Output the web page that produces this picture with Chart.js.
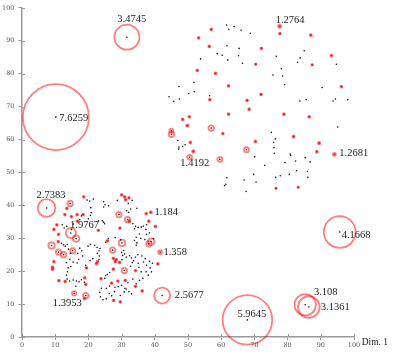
<!DOCTYPE html>
<html>
<head>
<meta charset="utf-8">
<script src="https://cdn.jsdelivr.net/npm/chart.js@4"></script>
<style>
html,body{margin:0;padding:0;background:#fff;}
#wrap{width:398px;height:355px;}
</style>
</head>
<body>
<div id="wrap"><canvas id="c" width="398" height="355"></canvas></div>
<script>
// ---------- data ----------
const tickValues = [0,10,20,30,40,50,60,70,80,90,100];
const axisTitle = 'Dim. 1';

// labelled points: [x, y]
const labeledPoints = [
  [31.6,91.1],[10.2,66.8],[77.6,94.4],[50.5,54.6],[94.1,55.5],
  [95.7,31.9],[85.3,9.8],[86.4,9.1],[67.9,5.2],[42.2,12.6],
  [15.7,13.3],[7.4,39.2],[14.7,31.6],[38.8,37.9],[41.6,25.8]
];
const labelTexts = [
  '3.4745','7.6259','1.2764','1.4192','1.2681',
  '4.1668','3.108','3.1361','5.9645','2.5677',
  '1.3953','2.7383','1.9767','1.184','1.358'
];
// label placement relative to the point (px, text left / baseline)
const labelOffsets = [
  [-9.6,-15.2],[3.4,3.4],[-4,-3.5],[-9.4,8.7],[4.9,1.7],
  [2,6],[8.7,-9.3],[12,3.3],[-10,-3],[12.7,2.4],
  [-21.3,13],[-10,-10],[-0.7,-4.7],[3.6,2.4],[3.3,3]
];

// unlabelled red points: [x, y, value]
const redPointsLow = [
  [18.6,42.6,1.15],[14.5,40.6,1.5],[13.5,39.1,1.15],[30,43.2,1.15],[30.9,42.6,1.15],
  [32.2,42.3,1.15],[31.2,41.7,1.15],[12.9,37.2,1.15],[14.9,36.6,1.15],[16.6,37.2,1.15],
  [18.4,37.2,1.15],[16.7,35.2,1.15],[29.2,37.2,1.5],[31.8,35.7,1.5],[32.3,35.2,1.15],
  [37.4,37.5,1.15],[38.2,35.2,1.15],[40.2,33.6,1.15],[10.5,34.1,1.15],[9.6,32.7,1.15],
  [11,31.2,1.15],[16.3,29.9,1.6],[8.9,27.8,1.6],[10.9,29,1.15],[12.5,25,1.5],
  [11,25.8,1.5],[15.3,26.2,1.5],[23,32.4,1.15],[29.5,33.1,1.15],[25.7,29.2,1.15],
  [30.1,28.6,1.6],[27.3,26.4,1.5],[38.2,28.3,1.5],[38.9,29,1.6],[9.6,22.9,1.15],
  [9.2,21.2,1.15],[9.2,20.6,1.15],[19.4,21,1.15],[22.4,22.3,1.15],[22.8,22.9,1.15],
  [27.5,23.9,1.15],[28.4,23.5,1.15],[28.1,22.9,1.15],[29.4,22.7,1.15],[27.5,20.6,1.15],
  [30.8,20.2,1.5],[34.2,20.2,1.15],[40.9,22.2,1.15],[11.1,17.1,1.15],[13,16.9,1.15],
  [18.9,18,1.15],[19.2,16,1.15],[23.8,17.7,1.15],[27,16.4,1.15],[28.9,17,1.15],
  [31.1,17.2,1.15],[34.2,15.4,1.15],[36.2,14,1.15],[19.2,12.6,1.5],[18.8,11.7,1.15],
  [27.6,11.1,1.15],[29.6,10.7,1.15]
];
const redPointsHigh = [
  [57,93.5,1.15],[77.7,92.2,1.15],[87,91.7,1.15],[53.2,90.9,1.15],[56.4,88.3,1.15],
  [72.1,87.7,1.15],[70.4,82.9,1.12],[87.4,82.7,1.12],[93.2,85.5,1.15],[52.8,81,1.15],
  [58.3,80.1,1.15],[62.2,76.3,1.15],[72,73.7,1.15],[96.2,76.1,1.15],[56.6,72.1,1.15],
  [67.8,71.9,1.15],[68.4,69.2,1.15],[62.2,67.7,1.15],[78.9,67.7,1.15],[86.5,66.9,1.15],
  [50.4,66.9,1.15],[48.4,66.1,1.15],[49.8,64.2,1.2],[57,63.5,1.5],[60.5,61.8,1.15],
  [50.7,59.1,1.15],[51.6,56.4,1.2],[70.3,59.4,1.15],[81.8,60.9,1.2],[89.5,58.9,1.2],
  [88.8,56.3,1.15],[67.6,56.9,1.45],[59.6,54,1.45],[45,62.7,1.35],[45,61.6,1.5],
  [76.5,45.2,1.12],[83.2,45.5,1.12]
];

// plain black points: [x, y]
const blackPointsLow = [
  [19.6,41.6],[20.4,41.3],[21.5,41.9],[24.6,41.1],[25,40.2],[26.1,39.9],[24.6,39.5],
  [28.7,41.5],[32,40.6],[33.2,41.5],[32.7,38.9],[34.6,39.1],[20.7,39.3],[20.9,37.8],
  [20.6,36.9],[17.9,36.8],[17.4,35.7],[20,35.9],[23,35.3],[24.6,34.9],[24.9,34.4],
  [24.2,35.3],[31.5,38.4],[32.1,37.9],[33.4,34.4],[34.2,33.6],[33.9,32.9],[35,33.3],
  [35.9,33.4],[37.5,34.1],[36.5,33.7],[37.3,32.7],[35.4,31.3],[35.8,30],[34.4,30.3],
  [33.9,29.3],[34.6,28.6],[34.4,27.9],[37,29.6],[37.5,31.2],[38.4,31.7],[39.6,29.9],
  [12.1,34.1],[12.7,33.1],[13.5,33.6],[14.9,32.7],[15.4,34.3],
  [11.9,28.5],[12.5,28],[13,27.6],[13.6,28.2],[14,26.7],[14.6,25.4],[16.8,25.4],
  [17.4,27],[18,26.2],[18.3,24.6],[17.1,23.6],[16.6,22.5],[19.9,27.6],[20.6,28.2],
  [21.9,27.9],[22.6,27.2],[23.2,26.2],[23.5,26.9],[22.7,25.4],[23.3,24.6],[23.2,23.6],
  [21.3,23.8],[20.5,23.2],[19.2,21.8],[25.2,28.8],[26,29.9],[28.1,30.2],[29.7,29.5],
  [30,25.7],[30.6,26.3],[30.3,24.8],[30.9,25.2],[30.1,23.5],[31.4,24.3],[32.4,24.7],
  [33,24],[34.2,24.2],[34.9,25],[36.1,24.6],[37.1,23.8],[38.4,23],[39.3,22.4],
  [36.6,22.8],[37.5,21.8],[35,22.4],[33.6,23.2],[33.2,22.6],[32.7,21.5],
  [35.2,21.2],[35.9,19.8],[37.4,19.8],[38.6,21],[39,19.8],[38,18.8],[36.4,17.8],
  [35.4,17.2],[34.4,16.2],[33.4,17.6],[31.9,16.5],[31,14.8],[30,15.7],[29,15.3],
  [28,15.1],[26.4,15.5],[25.4,14.8],[23.9,14.8],[23.4,13.6],[23.6,12.2],[24.4,11.3],
  [25.4,11.6],[26.3,13.2],[27,12.5],[27.9,13.8],[29.6,12.6],[30.8,13.7],[31.4,14.6],
  [32.2,13.8],[33,13.1],[25.2,18.6],[25.7,19],[26.4,19.6],[24.9,17.8],
  [13.7,19.8],[13.4,18.8],[13.6,17.6],[14.4,17],[15.4,17.3],[16.4,17],[17.2,16.8],
  [17.9,17.4],[16.2,15.4],[18.8,16.6],[13.4,22.6],[13.9,21],[14.7,21.4],[15.4,22.8],
  [14.4,23.6]
];
const blackPointsHigh = [
  [61.6,94.8],[62.3,93.5],[63.9,94.3],[66,93.2],[68.8,92.3],
  [61.7,88.5],[65.4,87.7],[58.8,86.1],[60.3,85.6],[65.2,85.5],[62,84.2],[66.4,83.2],[53.8,84.5],
  [76.6,85.3],[83.8,84.8],[85,87],[83,83.5],[94.7,82.9],
  [78.1,81.5],[75.6,79.6],[78.5,79.3],[79.1,76.7],
  [51.8,77.4],[51.9,74.5],[50.2,74],[56.5,73.3],
  [90.4,75.8],[83.7,71.7],[85.6,72.1],[93.7,71.7],[94.4,72.3],[98.1,72.1],
  [95.1,63.8],
  [75.1,62.2],[76.3,60.2],[75.8,59.1],[75.9,57.5],[76,55.8],
  [80.8,55.6],[80.9,55.2],[85.3,54.5],[86.8,53.2],[82.4,53.5],[79.2,53],
  [70.1,54.8],[73.1,52.2],[82.7,50.5],[86,50.3],[80.5,49.4],[77.8,49],[76.4,48.5],
  [69.8,49.4],[66.9,47.7],[61.7,48.4],[86.1,48.5],
  [61,46],[61.4,46.4],[70.5,47.1],[67.5,44.2],
  [47.3,76.1],[44.3,73],[45.7,71.6],[47.4,72.3],
  [46.9,59.7],[47.3,57.7],[48.4,57.9],[49.1,58.4],[47.2,57.1]
];

// ---------- chart ----------
const ringRadius = v => Math.max(0.8, 4.94 * (v - 1) + 0.25);

const allRed = redPointsLow.concat(redPointsHigh);
const labeledWithValues = labeledPoints.map((p, i) => [p[0], p[1], parseFloat(labelTexts[i])]);
const ringData = allRed.concat(labeledWithValues).map(p => ({x: p[0], y: p[1], v: p[2]}));
const dotData = blackPointsLow.concat(blackPointsHigh).map(p => ({x: p[0], y: p[1]}))
  .concat(ringData.map(d => ({x: d.x, y: d.y, v: d.v})));

const isSmallRed = raw => raw.v !== undefined && raw.v < 1.3;

const serif = "'Liberation Serif', 'Times New Roman', serif";
const tickFont = {family: "'DejaVu Serif', serif", size: 6.5};

const extrasPlugin = {
  id: 'extras',
  afterDraw(chart) {
    const ctx = chart.ctx;
    const xs = chart.scales.x, ys = chart.scales.y;
    ctx.save();
    // inner halves of the tick marks
    ctx.strokeStyle = '#999';
    ctx.lineWidth = 1;
    tickValues.forEach(v => {
      const px = Math.round(xs.getPixelForValue(v)) + 0.5;
      ctx.beginPath(); ctx.moveTo(px, ys.bottom); ctx.lineTo(px, ys.bottom - 3); ctx.stroke();
      const py = Math.round(ys.getPixelForValue(v)) + 0.5;
      ctx.beginPath(); ctx.moveTo(xs.left, py); ctx.lineTo(xs.left + 3, py); ctx.stroke();
    });
    // value labels
    ctx.fillStyle = '#222';
    ctx.font = '10.5px ' + serif;
    ctx.textAlign = 'left';
    ctx.textBaseline = 'alphabetic';
    labeledPoints.forEach((p, i) => {
      const px = xs.getPixelForValue(p[0]);
      const py = ys.getPixelForValue(p[1]);
      ctx.fillText(labelTexts[i], px + labelOffsets[i][0], py + labelOffsets[i][1]);
    });
    // axis title
    ctx.font = '9.5px ' + serif;
    ctx.fillStyle = '#222';
    ctx.fillText(axisTitle, xs.right + 7.7, ys.bottom + 8);
    ctx.restore();
  }
};

new Chart(document.getElementById('c'), {
  type: 'scatter',
  data: {
    datasets: [
      {
        data: dotData,
        pointRadius: ctx => isSmallRed(ctx.raw) ? 1.1 : 0.8,
        pointBorderWidth: 0,
        pointBackgroundColor: ctx => isSmallRed(ctx.raw) ? '#e41e1e' : '#111',
        pointHoverRadius: 0.8,
        clip: false
      },
      {
        data: ringData,
        pointRadius: ctx => ringRadius(ctx.raw.v),
        pointHoverRadius: ctx => ringRadius(ctx.raw.v),
        pointBorderWidth: 1.8,
        pointBorderColor: 'rgba(255,0,0,0.5)',
        pointBackgroundColor: 'rgba(0,0,0,0)',
        clip: false
      }
    ]
  },
  options: {
    responsive: false,
    animation: false,
    events: [],
    layout: {autoPadding: false, padding: {left: 0, top: 5, right: 44, bottom: 0}},
    plugins: {legend: {display: false}, tooltip: {enabled: false}},
    scales: {
      x: {
        type: 'linear', min: 0, max: 100,
        afterFit: s => { s.height = 18; },
        afterBuildTicks: s => { s.ticks = tickValues.map(v => ({value: v})); },
        ticks: {font: tickFont, color: '#555', padding: 1, maxRotation: 0, autoSkip: false},
        grid: {drawOnChartArea: false, drawTicks: true, tickLength: 3, color: '#999', lineWidth: 1},
        border: {display: true, color: '#999', width: 1.5}
      },
      y: {
        type: 'linear', min: 0, max: 100,
        afterFit: s => { s.width = 22; },
        afterBuildTicks: s => { s.ticks = tickValues.map(v => ({value: v})); },
        ticks: {font: tickFont, color: '#555', padding: 4, autoSkip: false},
        grid: {drawOnChartArea: false, drawTicks: true, tickLength: 3.5, color: '#999', lineWidth: 1},
        border: {display: true, color: '#999', width: 1.5}
      }
    }
  },
  plugins: [extrasPlugin]
});
</script>
</body>
</html>
